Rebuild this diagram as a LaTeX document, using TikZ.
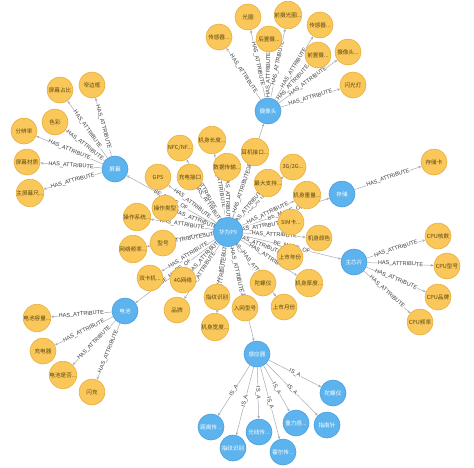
\documentclass[tikz,border=0pt]{standalone}
\usepackage{fontspec}
\setmainfont{Liberation Sans}
\newfontfamily\cjk{Noto Sans CJK SC}
\usetikzlibrary{arrows.meta,backgrounds}
\definecolor{attrfill}{HTML}{FAC85A}
\definecolor{attrline}{HTML}{E9AE3C}
\definecolor{attrtext}{HTML}{5A4510}
\definecolor{hubfill}{HTML}{5DB3EE}
\definecolor{hubline}{HTML}{4A9FDC}
\definecolor{relline}{HTML}{A5ABB6}
\definecolor{lbltext}{HTML}{3A3A3A}

\begin{document}
\begin{tikzpicture}[
  x=1pt, y=-1pt,
  font=\cjk\fontsize{5.6}{6.5}\selectfont,
  attr/.style={circle, draw=attrline, fill=attrfill, text=attrtext,
               minimum size=26pt, inner sep=0pt, line width=0.6pt},
  hub/.style={circle, draw=hubline, fill=hubfill, text=white,
              minimum size=26pt, inner sep=0pt, line width=0.6pt},
  rel/.style={-{Stealth[length=3pt,width=2.6pt]}, draw=relline, line width=0.5pt},
  lbl/.style={sloped, fill=white, inner sep=0.3pt, text=lbltext,
              font=\normalfont\fontsize{5.6}{6}\selectfont}
]
\useasboundingbox (0,0) rectangle (474,467);
% phone and its parts
\node[hub, minimum size=29pt] (p9) at (228,232) {华为P9};
\node[hub] (cam) at (268,111) {摄像头};
\node[hub] (scr) at (115,169) {屏幕};
\node[hub] (stor) at (342,194) {存储};
\node[hub] (chip) at (354,262) {主芯片};
\node[hub] (batt) at (125,311) {电池};
\node[hub] (sens) at (257,354) {感应器};
% camera
\node[attr] (camsen) at (219,37) {传感器...};
\node[attr] (aper) at (248,17) {光圈};
\node[attr] (faper) at (288,15) {前摄光圈...};
\node[attr] (rear) at (269,39) {后置摄...};
\node[attr] (camsenb) at (320,25) {传感器...};
\node[attr] (front) at (318,55) {前置摄...};
\node[attr] (camx) at (348,52) {摄像头...};
\node[attr] (flash) at (353,85) {闪光灯};
% screen
\node[attr] (ratio) at (60,90) {屏幕占比};
\node[attr] (bezel) at (92,85) {窄边框};
\node[attr] (color) at (55,122) {色彩};
\node[attr] (resol) at (24,131) {分辨率};
\node[attr] (mater) at (27,162) {屏幕材质};
\node[attr] (size) at (30,193) {主屏幕尺...};
% storage and chip
\node[attr] (card) at (434,162) {存储卡};
\node[attr] (cores) at (438,236) {CPU核数};
\node[attr] (cpumod) at (447,266) {CPU型号};
\node[attr] (cpubr) at (438,297) {CPU品牌};
\node[attr] (freq) at (420,322) {CPU频率};
% battery
\node[attr] (capac) at (37,318) {电池容量...};
\node[attr] (charger) at (43,351) {充电器};
\node[attr] (remov) at (63,375) {电池是否...};
\node[attr] (fast) at (92,392) {闪充};
% sensors
\node[hub] (dist) at (211,427) {距离传...};
\node[hub] (finger) at (233,448) {指纹识别};
\node[hub] (light) at (259,432) {光线传...};
\node[hub] (hall) at (283,452) {霍尔传...};
\node[hub] (grav) at (296,423) {重力感...};
\node[hub] (comp) at (327,425) {指南针};
\node[hub] (gyro) at (333,393) {陀螺仪};
% phone attributes
\node[attr] (nfc) at (180,148) {NFC/NF...};
\node[attr] (len) at (212,140) {机身长度...};
\node[attr] (jack) at (255,152) {耳机接口...};
\node[attr] (data) at (227,167) {数据传输...};
\node[attr] (gg) at (293,167) {3G/2G...};
\node[attr] (gps) at (158,177) {GPS};
\node[attr] (port) at (190,177) {充电接口};
\node[attr] (maxs) at (268,183) {最大支持...};
\node[attr] (weight) at (307,195) {机身重量...};
\node[attr] (optype) at (165,208) {操作类型};
\node[attr] (sim) at (291,222) {SIM卡...};
\node[attr] (bcolor) at (319,238) {机身颜色};
\node[attr] (os) at (137,217) {操作系统...};
\node[attr] (model) at (163,243) {型号};
\node[attr] (band) at (133,249) {网络频率...};
\node[attr] (year) at (290,257) {上市年份};
\node[attr] (dual) at (150,278) {双卡机...};
\node[attr] (lte) at (183,280) {4G网络};
\node[attr] (pgyro) at (263,283) {陀螺仪};
\node[attr] (thick) at (309,283) {机身厚度...};
\node[attr] (pfing) at (217,297) {指纹识别};
\node[attr] (brand) at (177,310) {品牌};
\node[attr] (netm) at (245,308) {入网型号};
\node[attr] (month) at (284,307) {上市月份};
\node[attr] (width) at (215,327) {机身宽度...};

\begin{scope}[on background layer]
\draw[rel] (p9) -- node[lbl]{BE\_MADE\_OF} (cam);
\draw[rel] (p9) -- node[lbl]{BE\_MADE\_OF} (scr);
\draw[rel] (p9) -- node[lbl]{BE\_MADE\_OF} (stor);
\draw[rel] (p9) -- node[lbl]{BE\_MADE\_OF} (chip);
\draw[rel] (p9) -- node[lbl]{BE\_MADE\_OF} (batt);
\draw[rel] (p9) -- node[lbl]{BE\_MADE\_OF} (sens);
\draw[rel] (p9) -- node[lbl]{HAS\_ATTRIBUTE} (nfc);
\draw[rel] (p9) -- node[lbl]{HAS\_ATTRIBUTE} (len);
\draw[rel] (p9) -- node[lbl]{HAS\_ATTRIBUTE} (jack);
\draw[rel] (p9) -- node[lbl]{HAS\_ATTRIBUTE} (data);
\draw[rel] (p9) -- node[lbl]{HAS\_ATTRIBUTE} (gg);
\draw[rel] (p9) -- node[lbl]{HAS\_ATTRIBUTE} (gps);
\draw[rel] (p9) -- node[lbl]{HAS\_ATTRIBUTE} (port);
\draw[rel] (p9) -- node[lbl]{HAS\_ATTRIBUTE} (maxs);
\draw[rel] (p9) -- node[lbl]{HAS\_ATTRIBUTE} (weight);
\draw[rel] (p9) -- node[lbl]{HAS\_ATTRIBUTE} (optype);
\draw[rel] (p9) -- node[lbl]{HAS\_ATTRIBUTE} (sim);
\draw[rel] (p9) -- node[lbl]{HAS\_ATTRIBUTE} (bcolor);
\draw[rel] (p9) -- node[lbl]{HAS\_ATTRIBUTE} (os);
\draw[rel] (p9) -- node[lbl]{HAS\_ATTRIBUTE} (model);
\draw[rel] (p9) -- node[lbl]{HAS\_ATTRIBUTE} (band);
\draw[rel] (p9) -- node[lbl]{HAS\_ATTRIBUTE} (year);
\draw[rel] (p9) -- node[lbl]{HAS\_ATTRIBUTE} (dual);
\draw[rel] (p9) -- node[lbl]{HAS\_ATTRIBUTE} (lte);
\draw[rel] (p9) -- node[lbl]{HAS\_ATTRIBUTE} (pgyro);
\draw[rel] (p9) -- node[lbl]{HAS\_ATTRIBUTE} (thick);
\draw[rel] (p9) -- node[lbl]{HAS\_ATTRIBUTE} (pfing);
\draw[rel] (p9) -- node[lbl]{HAS\_ATTRIBUTE} (brand);
\draw[rel] (p9) -- node[lbl]{HAS\_ATTRIBUTE} (netm);
\draw[rel] (p9) -- node[lbl]{HAS\_ATTRIBUTE} (month);
\draw[rel] (p9) -- node[lbl]{HAS\_ATTRIBUTE} (width);
% camera
\draw[rel] (cam) -- node[lbl]{HAS\_ATTRIBUTE} (camsen);
\draw[rel] (cam) -- node[lbl]{HAS\_ATTRIBUTE} (aper);
\draw[rel] (cam) -- node[lbl]{HAS\_ATTRIBUTE} (faper);
\draw[rel] (cam) -- node[lbl]{HAS\_ATTRIBUTE} (rear);
\draw[rel] (cam) -- node[lbl]{HAS\_ATTRIBUTE} (camsenb);
\draw[rel] (cam) -- node[lbl]{HAS\_ATTRIBUTE} (front);
\draw[rel] (cam) -- node[lbl]{HAS\_ATTRIBUTE} (camx);
\draw[rel] (cam) -- node[lbl]{HAS\_ATTRIBUTE} (flash);
% screen
\draw[rel] (scr) -- node[lbl]{HAS\_ATTRIBUTE} (ratio);
\draw[rel] (scr) -- node[lbl]{HAS\_ATTRIBUTE} (bezel);
\draw[rel] (scr) -- node[lbl]{HAS\_ATTRIBUTE} (color);
\draw[rel] (scr) -- node[lbl]{HAS\_ATTRIBUTE} (resol);
\draw[rel] (scr) -- node[lbl]{HAS\_ATTRIBUTE} (mater);
\draw[rel] (scr) -- node[lbl]{HAS\_ATTRIBUTE} (size);
% storage, chip
\draw[rel] (stor) -- node[lbl]{HAS\_ATTRIBUTE} (card);
\draw[rel] (chip) -- node[lbl]{HAS\_ATTRIBUTE} (cores);
\draw[rel] (chip) -- node[lbl]{HAS\_ATTRIBUTE} (cpumod);
\draw[rel] (chip) -- node[lbl]{HAS\_ATTRIBUTE} (cpubr);
\draw[rel] (chip) -- node[lbl]{HAS\_ATTRIBUTE} (freq);
% battery
\draw[rel] (batt) -- node[lbl]{HAS\_ATTRIBUTE} (capac);
\draw[rel] (batt) -- node[lbl]{HAS\_ATTRIBUTE} (charger);
\draw[rel] (batt) -- node[lbl]{HAS\_ATTRIBUTE} (remov);
\draw[rel] (batt) -- node[lbl]{HAS\_ATTRIBUTE} (fast);
% sensors
\draw[rel] (sens) -- node[lbl]{IS\_A} (dist);
\draw[rel] (sens) -- node[lbl]{IS\_A} (finger);
\draw[rel] (sens) -- node[lbl]{IS\_A} (light);
\draw[rel] (sens) -- node[lbl]{IS\_A} (hall);
\draw[rel] (sens) -- node[lbl]{IS\_A} (grav);
\draw[rel] (sens) -- node[lbl]{IS\_A} (comp);
\draw[rel] (sens) -- node[lbl]{IS\_A} (gyro);
\end{scope}
\end{tikzpicture}
\end{document}
